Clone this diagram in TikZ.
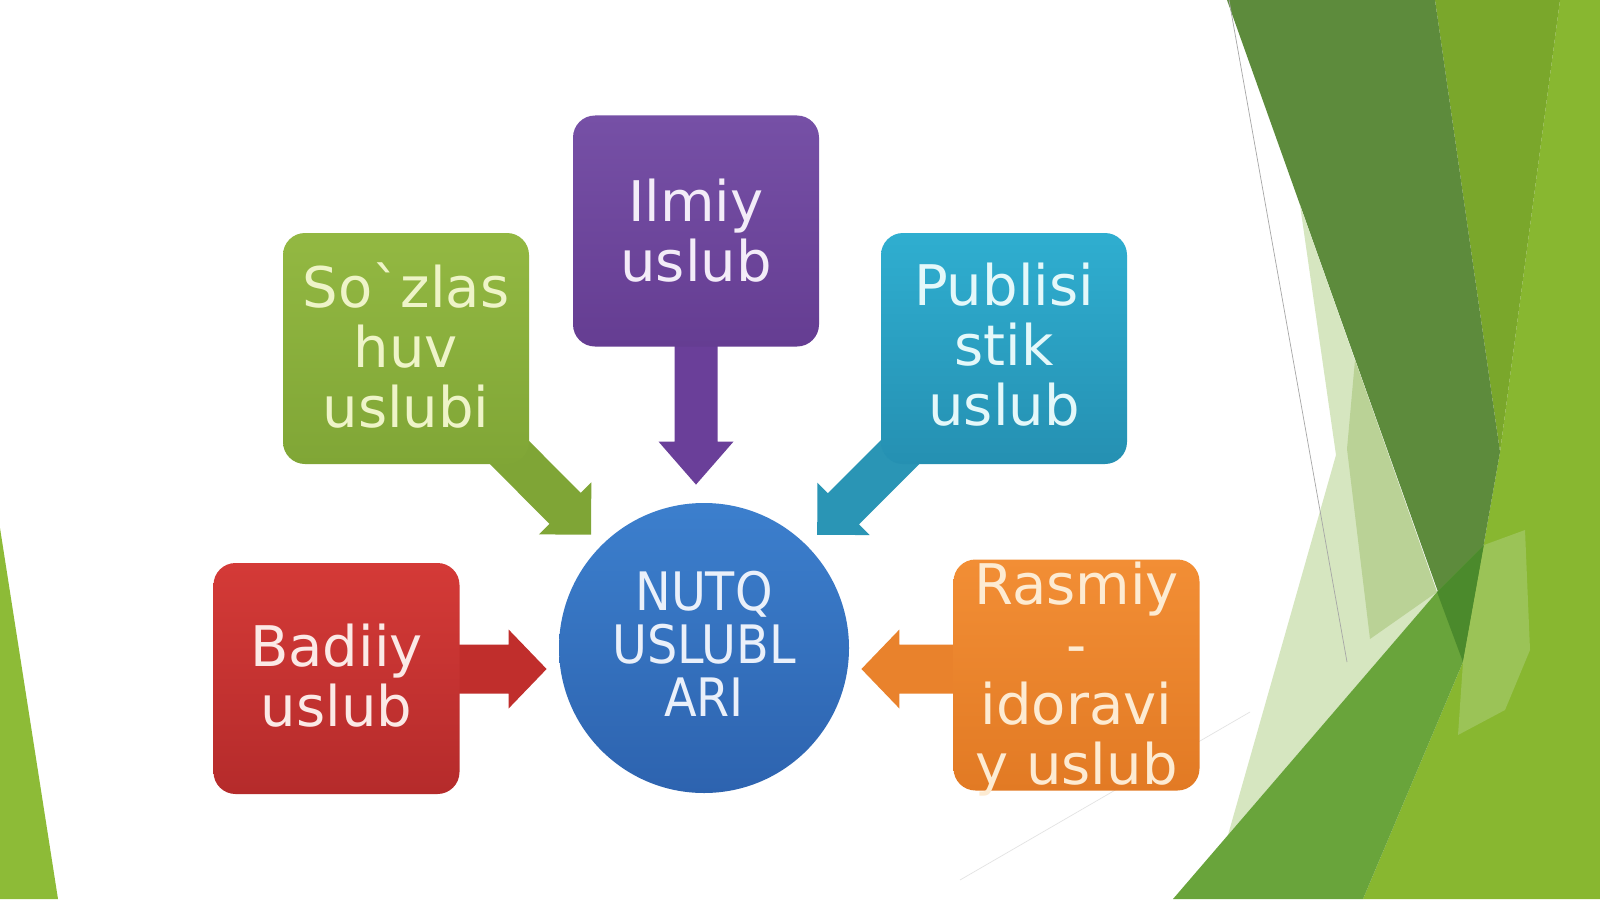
\documentclass[tikz,border=0pt]{standalone}
\usepackage{fontspec}
\newfontfamily\boxfont{DejaVu Sans}
\newfontfamily\circfont{DejaVu Sans}[FakeStretch=0.9]
\usetikzlibrary{calc}
\pgfdeclarelayer{back}
\pgfdeclarelayer{arrowlayer}
\pgfsetlayers{back,arrowlayer,main}

% background greens
\definecolor{lgreen}{HTML}{8DBB37}
\definecolor{ygreen}{HTML}{88B730}
\definecolor{mgreen}{HTML}{7AA72B}
\definecolor{dgreen}{HTML}{5D8B3C}
\definecolor{paleA}{HTML}{D6E6C0}
\definecolor{paleB}{HTML}{BAD296}
\definecolor{bandg}{HTML}{69A43B}
\definecolor{ovlg}{HTML}{4B8A2C}
\definecolor{lightov}{HTML}{9BC357}
% boxes
\definecolor{gTop}{HTML}{93B842}\definecolor{gBot}{HTML}{80A636}\definecolor{gArr}{HTML}{7FA536}\definecolor{gTxt}{HTML}{EEF4C8}
\definecolor{pTop}{HTML}{7650A6}\definecolor{pBot}{HTML}{653D92}\definecolor{pArr}{HTML}{6A3F99}\definecolor{pTxt}{HTML}{F3ECF8}
\definecolor{tTop}{HTML}{2FAED0}\definecolor{tBot}{HTML}{2590B2}\definecolor{tArr}{HTML}{2A95B5}\definecolor{tTxt}{HTML}{E4F8FA}
\definecolor{rTop}{HTML}{D43A37}\definecolor{rBot}{HTML}{B52B2B}\definecolor{rArr}{HTML}{C02E2C}\definecolor{rTxt}{HTML}{FBE9E6}
\definecolor{oTop}{HTML}{F28E35}\definecolor{oBot}{HTML}{E27A24}\definecolor{oArr}{HTML}{E9822C}\definecolor{oTxt}{HTML}{FDEBD2}
\definecolor{cTop}{HTML}{3C7FCD}\definecolor{cBot}{HTML}{2D63AF}\definecolor{cTxt}{HTML}{EAF0FA}

% block arrow: #1 colour, #2 start, #3 tip, #4 shaft half width, #5 head half width, #6 head length
\newcommand{\mkbarrow}[6]{%
  \coordinate (ab) at ($(#3)!#6!(#2)$);
  \fill[#1] ($(#2)!#4!90:(#3)$) -- ($(ab)!#4!90:(#3)$) -- ($(ab)!#5!90:(#3)$) -- (#3)
    -- ($(ab)!#5!-90:(#3)$) -- ($(ab)!#4!-90:(#3)$) -- ($(#2)!#4!-90:(#3)$) -- cycle;
}

\begin{document}
\begin{tikzpicture}[x=0.5pt,y=-0.5pt,
  stylebox/.style={rounded corners=11pt, minimum width=123pt, minimum height=115.5pt, inner sep=0pt},
  boxtext/.style={font=\boxfont\fontsize{28}{30}\selectfont, align=center, inner sep=0pt},
  circtext/.style={font=\circfont\fontsize{26.5}{26.5}\selectfont, align=center, inner sep=0pt}]
\useasboundingbox (0,0) rectangle (1600,899);

\begin{pgfonlayer}{back}
  \fill[white] (0,0) rectangle (1600,899);
  \fill[lgreen] (0,528) -- (58,899) -- (0,899) -- cycle;
  \fill[ygreen] (1560,0) -- (1600,0) -- (1600,899) -- (1363,899) -- (1463,662) -- (1500,452) -- cycle;
  \fill[mgreen] (1435,0) -- (1560,0) -- (1500,452) -- cycle;
  \fill[dgreen] (1227,0) -- (1435,0) -- (1500,452) -- (1463,662) -- cycle;
  \fill[paleA] (1300,205) -- (1336,455) -- (1228,835) -- (1437,592) -- cycle;
  \fill[paleB] (1355,360) -- (1347,449) -- (1370,639) -- (1437,592) -- cycle;
  \fill[bandg] (1173,899) -- (1437,592) -- (1484,545) -- (1463,662) -- (1363,899) -- cycle;
  \fill[ovlg] (1437,592) -- (1484,545) -- (1463,662) -- cycle;
  \fill[lightov] (1484,545) -- (1525,530) -- (1530,650) -- (1505,710) -- (1458,735) -- (1463,662) -- cycle;
  \draw[gray!70, line width=0.35pt] (1229,0) -- (1347,662);
  \draw[gray!22, line width=0.35pt] (1250,712) -- (960,880);
\end{pgfonlayer}

% boxes
\node[stylebox, top color=gTop, bottom color=gBot] (sozl) at (406,348.5) {};
\node[stylebox, top color=pTop, bottom color=pBot] (ilmiy) at (696,231) {};
\node[stylebox, top color=tTop, bottom color=tBot] (publ) at (1004,348.5) {};
\node[stylebox, top color=rTop, bottom color=rBot] (badiiy) at (336.5,678.5) {};
\node[stylebox, top color=oTop, bottom color=oBot] (rasmiy) at (1076.5,675) {};
\node[circle, minimum size=145pt, inner sep=0pt, top color=cTop, bottom color=cBot] (nutq) at (704,648) {};

% labels
\node[boxtext, text=gTxt] (sozlT) at ($(sozl.center)+(0,-3.5)$) {So`zlas\\huv\\uslubi};
\node[boxtext, text=pTxt] (ilmiyT) at ($(ilmiy.center)+(0,0)$) {Ilmiy\\uslub};
\node[boxtext, text=tTxt] (publT) at ($(publ.center)+(0,-3.5)$) {Publisi\\stik\\uslub};
\node[boxtext, text=rTxt] (badiiyT) at ($(badiiy.center)+(0,-2.5)$) {Badiiy\\uslub};
\node[boxtext, text=oTxt] (rasmiyT) at ($(rasmiy.center)+(0,4)$) {Rasmiy\\-\\idoravi\\y uslub};
\node[circtext, text=cTxt] (nutqT) at ($(nutq.center)+(0,-4)$) {NUTQ\\USLUBL\\ARI};

% arrows (under the boxes)
\begin{pgfonlayer}{arrowlayer}
  \coordinate (tipP) at ($(ilmiy.center |- nutq.north)+(0,-18)$);
  \mkbarrow{pArr}{ilmiy.center}{tipP}{10.75pt}{18.75pt}{21.5pt}
  \coordinate (tipG) at ($(nutq.center)!80pt!(sozl.center)$);
  \mkbarrow{gArr}{sozl.center}{tipG}{11pt}{18.5pt}{18.5pt}
  \coordinate (tipT) at ($(nutq.center)!80pt!(publ.center)$);
  \mkbarrow{tArr}{publ.center}{tipT}{11pt}{18.5pt}{18.5pt}
  \coordinate (stR) at ($(badiiy.center)+(0,-9.5)$);
  \coordinate (tipR) at ($(stR -| nutq.west)+(-12,0)$);
  \mkbarrow{rArr}{stR}{tipR}{12.25pt}{19.75pt}{19pt}
  \coordinate (stO) at ($(rasmiy.center)+(0,-6)$);
  \coordinate (tipO) at ($(stO -| nutq.east)+(12,0)$);
  \mkbarrow{oArr}{stO}{tipO}{12.25pt}{19.75pt}{19pt}
\end{pgfonlayer}
\end{tikzpicture}
\end{document}
